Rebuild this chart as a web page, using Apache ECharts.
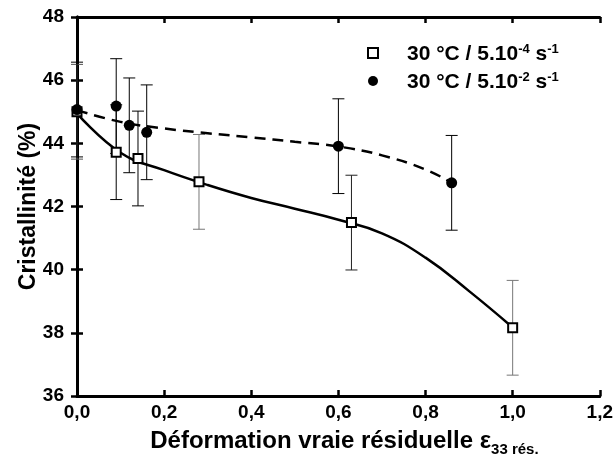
<!DOCTYPE html>
<html><head><meta charset="utf-8">
<script src="https://cdn.jsdelivr.net/npm/echarts@6/dist/echarts.min.js"></script>
<style>html,body{margin:0;padding:0;background:#fff}#c{width:616px;height:465px}</style>
</head><body><div id="c"></div>
<script>
// Data
const xSlow = [0, 0.09, 0.14, 0.28, 0.63, 1.0];
const ySlow = [45.0, 43.72, 43.52, 42.78, 41.49, 38.16];
const errSlow = [1.5, 1.5, 1.5, 1.5, 1.5, 1.5];
const xFast = [0, 0.09, 0.12, 0.16, 0.60, 0.86];
const yFast = [45.07, 45.18, 44.57, 44.35, 43.91, 42.75];
const errFast = [1.5, 1.5, 1.5, 1.5, 1.5, 1.5];
// Fitted curves
const fitSlowX = [0, 0.1, 0.2, 0.3, 0.4, 0.5, 0.6, 0.7, 0.8, 0.9, 1.0];
const fitSlowY = [44.95, 43.7, 43.15, 42.68, 42.27, 41.93, 41.58, 41.15, 40.38, 39.32, 38.17];
const fitFastX = [0, 0.1, 0.2, 0.3, 0.4, 0.5, 0.6, 0.7, 0.8, 0.86];
const fitFastY = [45.05, 44.68, 44.47, 44.32, 44.19, 44.05, 43.9, 43.62, 43.17, 42.75];
const xTicks = ['0,0','0,2','0,4','0,6','0,8','1,0','1,2'];
const nameSlow = '30 °C / 5.10-4 s-1';
const nameFast = '30 °C / 5.10-2 s-1';

const zip = (a, b) => a.map((v, i) => [v, b[i]]);
const errData = (xs, ys, es, colors) => xs.map((x, i) => ({value: [x, ys[i] - es[i], ys[i] + es[i]], itemStyle: {color: colors[i]}}));
const slowErrColors = ['#555', '#000', '#000', '#777', '#222', '#777'];
const fastErrColors = ['#000', '#000', '#000', '#000', '#000', '#000'];

function renderErr(params, api) {
  const x = api.value(0);
  const lo = api.coord([x, api.value(1)]);
  const hi = api.coord([x, api.value(2)]);
  const w = 6;
  const c = api.visual('color');
  return {
    type: 'group',
    children: [
      {type: 'line', shape: {x1: lo[0], y1: lo[1], x2: hi[0], y2: hi[1]}, style: {stroke: c, lineWidth: 1}},
      {type: 'line', shape: {x1: lo[0] - w, y1: lo[1], x2: lo[0] + w, y2: lo[1]}, style: {stroke: c, lineWidth: 1}},
      {type: 'line', shape: {x1: hi[0] - w, y1: hi[1], x2: hi[0] + w, y2: hi[1]}, style: {stroke: c, lineWidth: 1}}
    ]
  };
}

const font = '"Liberation Sans", Arial, sans-serif';
const chart = echarts.init(document.getElementById('c'), null, {renderer: 'canvas'});
const axisLine = {show: true, lineStyle: {color: '#000', width: 3}};
const tickStyle = {show: true, inside: true, length: 6, lineStyle: {color: '#000', width: 2.5}};
const rich = {
  n: {fontSize: 21, fontWeight: 'bold', fontFamily: font, color: '#000', lineHeight: 24, verticalAlign: 'bottom'},
  s: {fontSize: 13, fontWeight: 'bold', fontFamily: font, color: '#000', lineHeight: 24, verticalAlign: 'bottom', padding: [0, 0, 9, 0]}
};
chart.setOption({
  animation: false,
  backgroundColor: '#fff',
  textStyle: {fontFamily: font},
  grid: {left: 77, right: 13, top: 17, bottom: 69},
  legend: {
    orient: 'vertical', left: 362, top: 38, itemGap: 6, itemWidth: 10, itemHeight: 10,
    data: [nameSlow, nameFast],
    formatter: function (n) {
      return n === nameSlow ? '{n|30 °C / 5.10}{s|-4}{n| s}{s|-1}' : '{n|30 °C / 5.10}{s|-2}{n| s}{s|-1}';
    },
    textStyle: {rich: rich, padding: [0, 0, 0, 24]}
  },
  xAxis: [{
    type: 'value', min: 0, max: 1.2, interval: 0.2,
    axisLine: axisLine, axisTick: tickStyle, splitLine: {show: false},
    axisLabel: {margin: 7, fontSize: 19, fontWeight: 'bold', color: '#000', fontFamily: font,
      formatter: v => xTicks[Math.round(v / 0.2)]},
    name: '{m|Déformation vraie résiduelle ε}{b|33 rés.}',
    nameLocation: 'middle', nameGap: 33, nameMoveOverlap: false,
    nameTextStyle: {padding: [0, 0, 0, 12], rich: {
      m: {fontSize: 24, fontWeight: 'bold', fontFamily: font, color: '#000', lineHeight: 28, verticalAlign: 'top'},
      b: {fontSize: 15, fontWeight: 'bold', fontFamily: font, color: '#000', lineHeight: 28, verticalAlign: 'top', padding: [13, 0, 0, 0]}
    }}
  }, {
    type: 'value', min: 0, max: 1.2, interval: 0.2, position: 'top',
    axisLine: axisLine, axisTick: tickStyle, axisLabel: {show: false}, splitLine: {show: false}
  }],
  yAxis: [{
    type: 'value', min: 36, max: 48, interval: 2,
    axisLine: axisLine, axisTick: tickStyle, splitLine: {show: false},
    axisLabel: {margin: 13, fontSize: 19, fontWeight: 'bold', color: '#000', fontFamily: font},
    name: 'Cristallinité (%)', nameLocation: 'middle', nameGap: 37, nameRotate: 90, nameMoveOverlap: false,
    nameTextStyle: {fontSize: 23, fontWeight: 'bold', color: '#000', fontFamily: font}
  }, {
    type: 'value', min: 36, max: 48, interval: 2, position: 'right',
    axisLine: axisLine, axisTick: tickStyle, axisLabel: {show: false}, splitLine: {show: false}
  }],
  series: [
    {type: 'custom', name: 'errSlow', renderItem: renderErr, data: errData(xSlow, ySlow, errSlow, slowErrColors), z: 1, encode: {x: 0, y: [1, 2]}},
    {type: 'custom', name: 'errFast', renderItem: renderErr, data: errData(xFast, yFast, errFast, fastErrColors), z: 1, encode: {x: 0, y: [1, 2]}},
    {type: 'line', name: 'fitSlow', data: zip(fitSlowX, fitSlowY), smooth: 0.45, showSymbol: false, symbol: 'none',
      lineStyle: {color: '#000', width: 2.5}, z: 2},
    {type: 'line', name: 'fitFast', data: zip(fitFastX, fitFastY), smooth: 0.45, showSymbol: false, symbol: 'none',
      lineStyle: {color: '#000', width: 2.5, type: [11, 7]}, z: 2},
    {type: 'scatter', name: nameSlow, data: zip(xSlow, ySlow), symbol: 'rect', symbolSize: 9,
      itemStyle: {color: '#fff', borderColor: '#000', borderWidth: 2, opacity: 1}, z: 4},
    {type: 'scatter', name: nameFast, data: zip(xFast, yFast), symbol: 'circle', symbolSize: 11,
      itemStyle: {color: '#000', opacity: 1}, z: 5}
  ]
});
</script></body></html>
